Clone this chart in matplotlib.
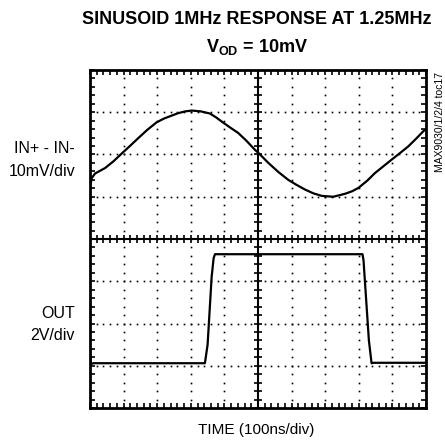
import numpy as np
import matplotlib
matplotlib.use('Agg')
import matplotlib.pyplot as plt
from matplotlib.ticker import MultipleLocator

# values in screen divisions (x: 0..10 div, y: 0..8 div)
sine_x = [0.0, 0.05, 0.15, 0.45, 0.7, 0.94, 1.2, 1.44, 1.7, 1.98, 2.2, 2.43, 2.63, 2.83, 3.03,
          3.3, 3.57, 3.75, 3.92, 4.15, 4.41, 4.65, 4.91, 5.01, 5.31, 5.6, 5.9, 6.15, 6.4, 6.65,
          6.9, 7.24, 7.59, 7.8, 7.99, 8.25, 8.48, 8.73, 8.98, 9.22, 9.47, 9.7, 9.92, 10.0]
sine_y = [5.2, 5.44, 5.55, 5.68, 5.84, 6.02, 6.21, 6.39, 6.58, 6.76, 6.85, 6.92, 6.98, 7.02, 7.04,
          7.02, 6.97, 6.88, 6.78, 6.65, 6.51, 6.33, 6.11, 6.04, 5.8, 5.59, 5.4, 5.28, 5.17, 5.08,
          5.02, 5.0, 5.07, 5.13, 5.21, 5.38, 5.56, 5.72, 5.88, 6.03, 6.19, 6.37, 6.55, 6.6]

out_x = [0.0, 0.03, 0.1, 3.42, 3.5, 3.62, 3.68, 3.72, 8.11, 8.14, 8.3, 8.38, 8.45, 10.0]
out_y = [1.3, 1.04, 1.06, 1.06, 1.5, 3.1, 3.55, 3.64, 3.64, 3.5, 1.6, 1.06, 1.07, 1.07]

plt.rcParams['font.family'] = ['Liberation Sans Narrow', 'Liberation Sans', 'DejaVu Sans']
plt.rcParams['mathtext.fontset'] = 'custom'
plt.rcParams['mathtext.rm'] = 'Liberation Sans'
plt.rcParams['mathtext.bf'] = 'Liberation Sans:bold'

fig = plt.figure(figsize=(4.45, 4.40), dpi=100)
ax = fig.add_axes([90/445, 32/440, 336/445, 338/440])
ax.set_xlim(0, 10)
ax.set_ylim(0, 8)

# dotted graticule
dots_x = np.arange(0, 10.01, 0.2)
dots_y = np.arange(0, 8.01, 0.2)
for i in range(1, 10):
    if i != 5:
        ax.plot([i]*len(dots_y), dots_y, ls='none', marker='s', ms=1.2, color='black', mew=0)
for j in range(1, 8):
    if j != 4:
        ax.plot(dots_x, [j]*len(dots_x), ls='none', marker='s', ms=1.2, color='black', mew=0)

# center axes with tick crosses
ax.axvline(5, color='black', lw=1.5)
ax.axhline(4, color='black', lw=1.5)
ax.plot(dots_x, [4]*len(dots_x), ls='none', marker='|', ms=6, mew=1.2, color='black')
ax.plot([5]*len(dots_y), dots_y, ls='none', marker='_', ms=6, mew=1.2, color='black')

# traces
ax.plot(sine_x, sine_y, color='black', lw=1.6)
ax.plot(out_x, out_y, color='black', lw=1.6)

ax.xaxis.set_major_locator(MultipleLocator(1))
ax.yaxis.set_major_locator(MultipleLocator(1))
ax.xaxis.set_minor_locator(MultipleLocator(0.2))
ax.yaxis.set_minor_locator(MultipleLocator(0.2))
ax.tick_params(which='both', direction='in', length=3.5, width=1.2,
               top=True, right=True, labelbottom=False, labelleft=False)
for s in ax.spines.values():
    s.set_linewidth(2)

fig.text(257/445, 1 - 20/440, 'SINUSOID 1MHz RESPONSE AT 1.25MHz', ha='center', va='center',
         fontsize=13, fontweight='bold')
fig.text(257/445, 1 - 47/440, r'$\mathbf{V_{OD}}$ = 10mV', ha='center', va='center',
         fontsize=13, fontweight='bold')

fig.text(75/445, 1 - 148/440, 'IN+ - IN-', ha='right', va='center', fontsize=11.5)
fig.text(75/445, 1 - 172/440, '10mV/div', ha='right', va='center', fontsize=11.5)
fig.text(75/445, 1 - 314/440, 'OUT', ha='right', va='center', fontsize=11.5)
fig.text(75/445, 1 - 335/440, '2V/div', ha='right', va='center', fontsize=11.5)
fig.text(256/445, 1 - 430/440, 'TIME (100ns/div)', ha='center', va='center', fontsize=11)
fig.text(440/445, 1 - 72/440, 'MAX9030/1/2/4 toc17', rotation=90, ha='center', va='top',
         fontsize=7.5)

fig.savefig('out.png', dpi=100)
